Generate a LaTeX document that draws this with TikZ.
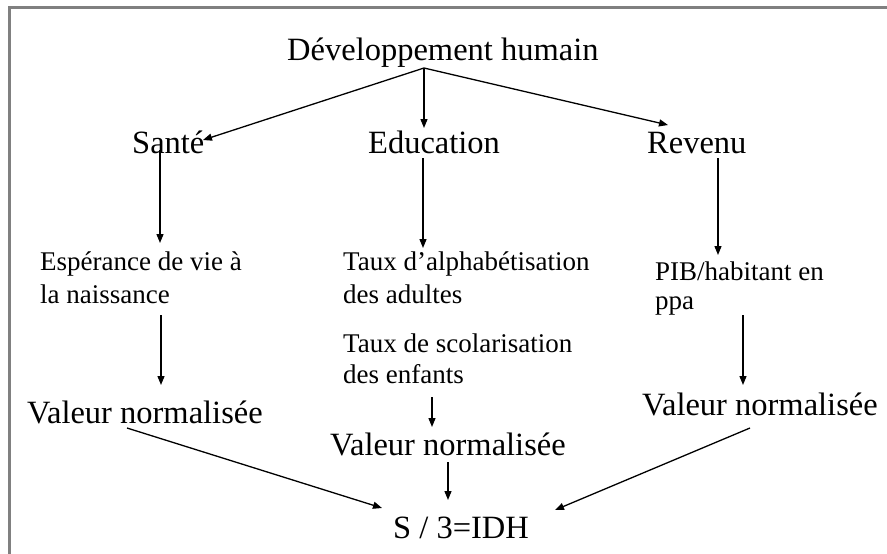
\documentclass[tikz,border=0pt]{standalone}
\usepackage{fontspec}
\setmainfont{Liberation Serif}
\usetikzlibrary{arrows.meta,calc}
\newcommand\twolines[2]{\begin{tabular}[t]{@{}l@{}}#1\\#2\end{tabular}}
\begin{document}
\begin{tikzpicture}[x=1pt,y=-1pt,
  big/.style={font=\fontsize{32.5}{39}\selectfont, inner sep=0pt, anchor=base west},
  small/.style={inner sep=0pt, anchor=base west},
  arr/.style={line width=1.3pt, -{Triangle[length=9pt,width=7pt]}},
  frameline/.style={draw=black!50, line width=3pt}]
\useasboundingbox (0,0) rectangle (887,554);
\fill[white] (0,0) rectangle (887,554);
\draw[frameline] (9.5,554) -- (9.5,7.5) -- (887,7.5);

\node[big] (dev) at (287,60) {Développement humain};
\node[big] (sante) at (132,153) {Santé};
\node[big] (edu) at (368,153) {Education};
\node[big] (rev) at (647,153) {Revenu};

\node[small, font=\fontsize{27}{33}\selectfont] (esp) at (40,270) {\twolines{Espérance de vie à}{la naissance}};
\node[small, font=\fontsize{27}{33}\selectfont] (alpha) at (343,270) {\twolines{Taux d’alphabétisation}{des adultes}};
\node[small, font=\fontsize{27}{31}\selectfont] (scol) at (343,352) {\twolines{Taux de scolarisation}{des enfants}};
\node[small, font=\fontsize{27}{29}\selectfont] (pib) at (655,280) {\twolines{PIB/habitant en}{ppa}};

\node[big] (valL) at (27,423) {Valeur normalisée};
\node[big] (valM) at (330,455) {Valeur normalisée};
\node[big] (valR) at (642,415) {Valeur normalisée};
\node[big] (idh) at (393,538) {S / 3=IDH};

\coordinate (hub) at ($(dev.base west)+(137,8)$);
\draw[arr] (hub) -- ($(sante.base west)+(71,-13)$);
\draw[arr] (hub) -- ($(edu.base west)+(56,-25)$);
\draw[arr] (hub) -- ($(rev.base west)+(21,-28)$);

\draw[arr] ($(sante.base west)+(28,-3)$) -- ($(esp.base west)+(120,-27)$);
\draw[arr] ($(edu.base west)+(55,5)$) -- ($(alpha.base west)+(80,-22)$);
\draw[arr] ($(rev.base west)+(71,5)$) -- ($(pib.base west)+(63,-25)$);

\draw[arr] ($(esp.base west)+(121,45)$) -- ($(valL.base west)+(134,-38)$);
\draw[arr] ($(pib.base west)+(88,35)$) -- ($(valR.base west)+(101,-30)$);
\draw[arr] ($(scol.base west)+(89,45)$) -- ($(valM.base west)+(102,-28)$);

\draw[arr] ($(valL.base west)+(100,5)$) -- ($(idh.base west)+(-11,-30)$);
\draw[arr] ($(valM.base west)+(118,7)$) -- ($(idh.base west)+(55,-38)$);
\draw[arr] ($(valR.base west)+(108,13)$) -- ($(idh.base west)+(162,-28)$);
\end{tikzpicture}
\end{document}
